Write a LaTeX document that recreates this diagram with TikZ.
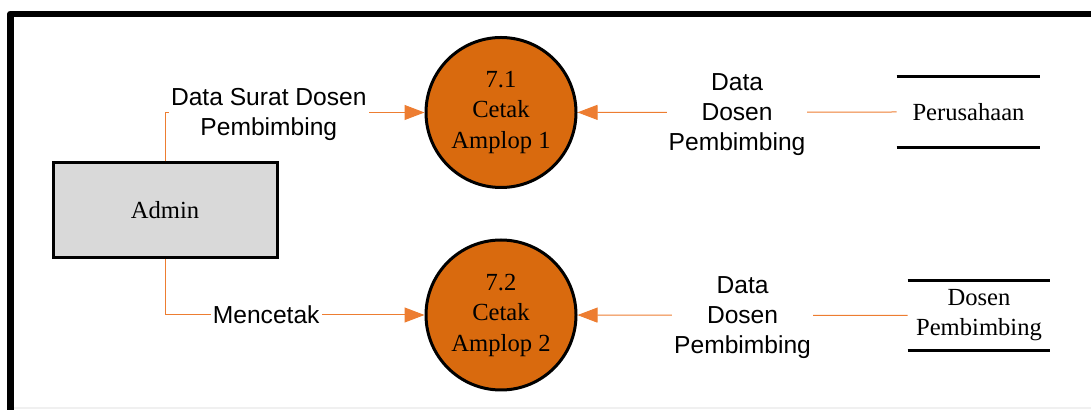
\documentclass[tikz,border=0pt]{standalone}
\usepackage{fontspec}
\setmainfont{Liberation Serif}
\newfontfamily\labelfont{Liberation Sans}
\usepackage{xcolor}
\definecolor{colProc}{RGB}{217,106,14}
\definecolor{colFlow}{RGB}{237,125,49}
\definecolor{colEnt}{RGB}{217,217,217}
\usetikzlibrary{arrows.meta, positioning}

\begin{document}
\begin{tikzpicture}[
		x=0.5pt, y=-0.5pt,
		proc/.style={circle, draw, line width=1.5pt, fill=colProc, minimum size=75pt, inner sep=0pt, align=center, font=\fontsize{12.3}{15.25}\selectfont},
		ent/.style={draw, line width=1.5pt, fill=colEnt, minimum width=112pt, minimum height=47.5pt, font=\fontsize{12.3}{15}\selectfont},
		store/.style={minimum height=35pt, inner sep=0pt, align=center, font=\fontsize{12.3}{15}\selectfont},
		storeline/.style={line width=1.5pt},
		flow/.style={-{Triangle[length=10pt, width=7.5pt]}, colFlow, line width=0.5pt},
		flowlbl/.style={fill=white, text=black, inner xsep=1pt, inner ysep=0pt, align=center, font=\labelfont\fontsize{12.3}{15}\selectfont}
	]
		\useasboundingbox (0,0) rectangle (1091,410);

		% ===== FRAME =====
		\draw[gray!12, line width=0.8pt] (10,408) -- (1091,408);
		\draw[line width=3.4pt, line join=round] (10.5,412) -- (10.5,14) -- (1092,14);

		% ===== ENTITY =====
		\node[ent] (admin) at (165, 210.5) {Admin};

		% ===== PROCESSES =====
		\node[proc] (p71) at (501, 112.5) {7.1\\Cetak\\Amplop 1};
		\node[proc] (p72) at (501, 315) {7.2\\Cetak\\Amplop 2};

		% ===== DATA STORES =====
		\node[store, minimum width=71.5pt] (sPer) at (968.5, 112) {Perusahaan};
		\draw[storeline] (sPer.north west) -- (sPer.north east) (sPer.south west) -- (sPer.south east);

		\node[store, minimum width=71pt] (sDos) at (979, 315.5) {Dosen\\Pembimbing};
		\draw[storeline] (sDos.north west) -- (sDos.north east) (sDos.south west) -- (sDos.south east);

		% ===== FLOWS =====
		\draw[flow] (admin.north) |- node[flowlbl, pos=0.70, yshift=-1pt] {Data Surat Dosen\\Pembimbing} (p71);
		\draw[flow] (admin.south) |- node[flowlbl, pos=0.695] {Mencetak} (p72);

		\draw[flow] (sPer.west) -- node[flowlbl, yshift=-1pt] {Data\\Dosen\\Pembimbing} (p71);
		\draw[flow] (sDos.west) -- node[flowlbl, yshift=-1pt] {Data\\Dosen\\Pembimbing} (p72);
	\end{tikzpicture}
\end{document}
